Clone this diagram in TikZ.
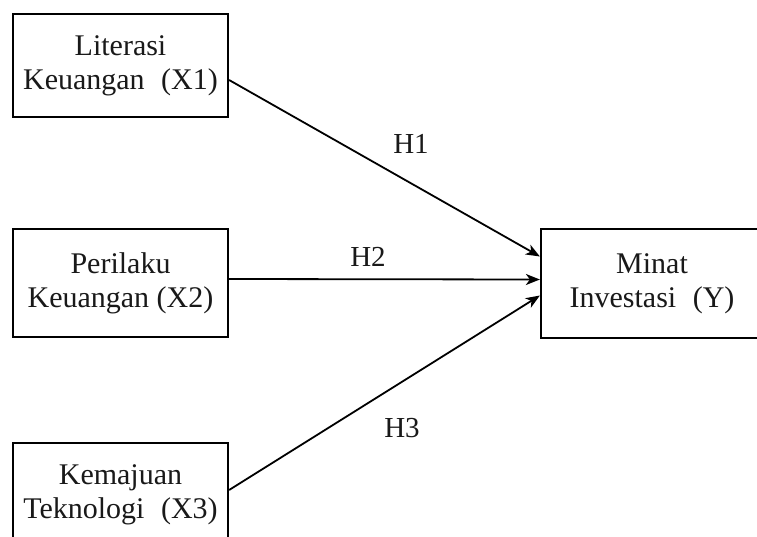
\documentclass[tikz,border=0pt]{standalone}
\usepackage{fontspec}
\setmainfont{Liberation Serif}
\usetikzlibrary{arrows.meta}
\tikzset{
  varbox/.style={draw=black, line width=2.2pt, fill=white, align=center, minimum width=215pt, inner sep=0pt, font=\fontsize{30}{34}\selectfont, text=black!90},
  hyparrow/.style={line width=1.8pt, -{Stealth[length=14pt,width=11pt,inset=4pt]}},
  hyplabel/.style={font=\fontsize{29}{30}\selectfont, text=black!90}
}
\begin{document}
\begin{tikzpicture}[x=1pt,y=-1pt]
\useasboundingbox (0,0) rectangle (757,536);
\clip (0,0) rectangle (757,536);
\node[varbox, minimum height=103pt] (X1) at (120.5,65.5) {Literasi\\Keuangan\hspace{0.3em} (X1)};
\node[varbox, minimum height=108pt] (X2) at (120.5,283) {Perilaku\\Keuangan (X2)};
\node[varbox, minimum height=104pt] (X3) at (120.5,495) {Kemajuan\\Teknologi\hspace{0.3em} (X3)};
\node[varbox, minimum height=109pt, minimum width=222pt] (Y) at (652,283.5) {Minat\\Investasi\hspace{0.3em} (Y)\hspace{6pt}};
\draw[hyparrow] ([yshift=-14.5pt]X1.east) -- ([yshift=27pt]Y.west);
\draw[hyparrow] ([yshift=4pt]X2.east) -- ([yshift=4pt]Y.west);
\draw[hyparrow] ([yshift=5pt]X3.east) -- ([yshift=-12pt]Y.west);
\node[hyplabel] (H1) at (411,144) {H1};
\node[hyplabel] (H2) at (368,257) {H2};
\node[hyplabel] (H3) at (402,428) {H3};
\end{tikzpicture}
\end{document}
